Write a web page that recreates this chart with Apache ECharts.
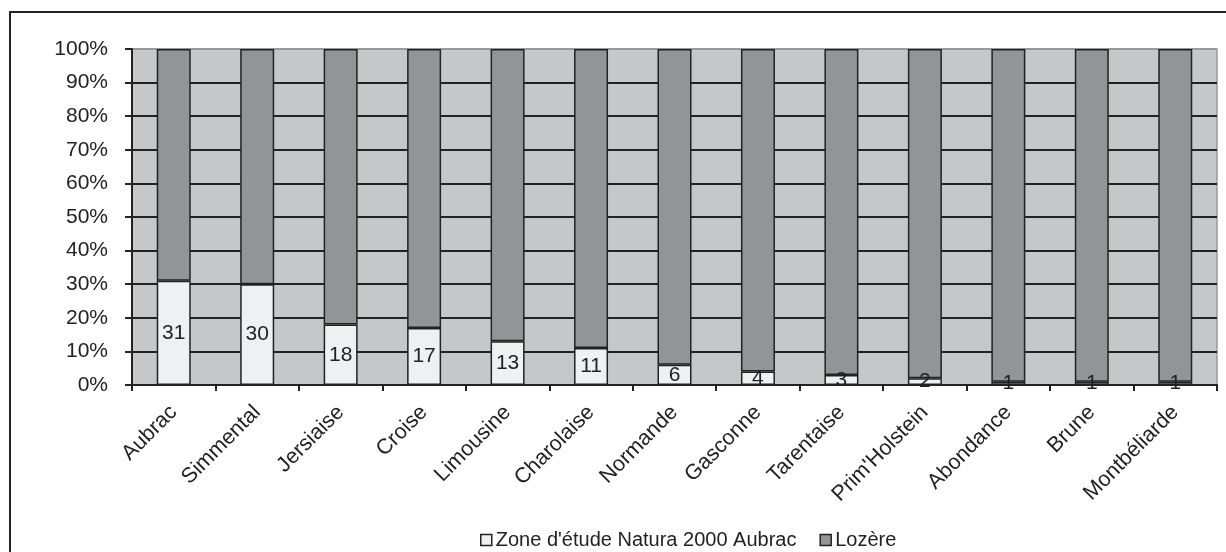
<!DOCTYPE html>
<html>
<head>
<meta charset="utf-8">
<script src="https://cdn.jsdelivr.net/npm/echarts@6/dist/echarts.min.js"></script>
<style>
  html, body { margin: 0; padding: 0; background: #ffffff; }
  #chart { width: 1226px; height: 552px; }
</style>
</head>
<body>
<div id="chart"></div>
<script>
// Breeds of cattle, share (%) of herds: Natura 2000 Aubrac study area vs. rest of Lozère
const breeds = ['Aubrac', 'Simmental', 'Jersiaise', 'Croise', 'Limousine', 'Charolaise',
  'Normande', 'Gasconne', 'Tarentaise', "Prim'Holstein", 'Abondance', 'Brune', 'Montbéliarde'];
const zoneShare = [31, 30, 18, 17, 13, 11, 6, 4, 3, 2, 1, 1, 1];
const lozereShare = [69, 70, 82, 83, 87, 89, 94, 96, 97, 98, 99, 99, 99];
const seriesNames = ["Zone d'étude Natura 2000 Aubrac", 'Lozère'];
const yTicks = [0, 10, 20, 30, 40, 50, 60, 70, 80, 90, 100];

const FONT = '"Liberation Sans", Arial, sans-serif';
const INK = '#222222';

const chart = echarts.init(document.getElementById('chart'), null, { renderer: 'canvas' });

// split lines: black for inner ticks, grey at the top edge
const splitColors = yTicks.map((v, i) => (i === yTicks.length - 1 ? '#9a9a9a' : INK));

chart.setOption({
  animation: false,
  backgroundColor: '#ffffff',
  textStyle: { fontFamily: FONT, color: INK },
  graphic: [{
    type: 'rect',
    shape: { x: 10, y: 12, width: 1400, height: 800 },
    style: { fill: null, stroke: INK, lineWidth: 2 },
    silent: true,
    z: 100
  }],
  grid: {
    left: 132, right: 9, top: 49, bottom: 167,
    show: true,
    backgroundColor: '#c6c7c9',
    borderColor: '#9a9a9a',
    borderWidth: 1.5
  },
  legend: {
    left: 475, top: 525,
    itemWidth: 11, itemHeight: 11, itemGap: 23,
    textStyle: { fontFamily: FONT, fontSize: 20, color: INK, padding: [0, 0, 0, -1] },
    data: [
      { name: seriesNames[0], icon: 'rect', itemStyle: { color: '#eff0f2', borderColor: INK, borderWidth: 1.5 } },
      { name: seriesNames[1], icon: 'rect', itemStyle: { color: '#939498', borderColor: INK, borderWidth: 1.5 } }
    ]
  },
  xAxis: {
    type: 'category',
    data: breeds,
    boundaryGap: true,
    axisLine: { show: true, lineStyle: { color: INK, width: 2 } },
    axisTick: { show: true, length: 6, lineStyle: { color: INK, width: 2 } },
    axisLabel: {
      interval: 0, rotate: 45, margin: 24,
      fontFamily: FONT, fontSize: 21.5, color: INK
    },
    splitLine: { show: false }
  },
  yAxis: {
    type: 'value',
    min: 0, max: 100, interval: 10,
    axisLine: { show: true, lineStyle: { color: INK, width: 2 } },
    axisTick: { show: true, inside: false, length: 7, lineStyle: { color: INK, width: 2 } },
    axisLabel: {
      margin: 24, fontFamily: FONT, fontSize: 21, color: INK,
      formatter: v => v + '%'
    },
    splitLine: { show: true, lineStyle: { color: splitColors, width: 2 } }
  },
  series: [
    {
      name: seriesNames[0],
      type: 'bar',
      stack: 'total',
      barWidth: 34,
      data: zoneShare,
      itemStyle: { color: '#eff0f2', borderColor: INK, borderWidth: 1.5 },
      label: {
        show: true, position: 'inside',
        fontFamily: FONT, fontSize: 21, color: INK
      },
      z: 3
    },
    {
      name: seriesNames[1],
      type: 'bar',
      stack: 'total',
      barWidth: 34,
      data: lozereShare,
      itemStyle: { color: '#939498', borderColor: INK, borderWidth: 1.5 },
      z: 2
    }
  ]
});
</script>
</body>
</html>
